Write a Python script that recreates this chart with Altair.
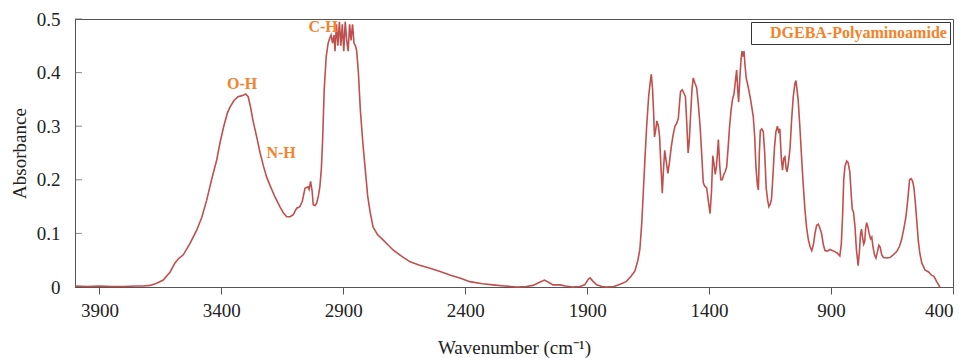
import altair as alt
import pandas as pd

# Spectrum (wavenumber in cm-1, absorbance)
wavenumber = [
    4000, 3950, 3900, 3850, 3800, 3750, 3720, 3692, 3665, 3638, 3610, 3590, 3575, 3556,
    3530, 3501, 3480, 3460, 3440, 3419, 3405, 3390, 3375, 3364, 3348, 3332, 3315, 3300,
    3290, 3280, 3270, 3255, 3241, 3227, 3214, 3201, 3180, 3160, 3145, 3132, 3118, 3105,
    3091, 3078, 3068, 3057, 3045, 3040, 3034, 3028, 3023, 3015, 3009, 3002, 2996, 2990,
    2985, 2978, 2970, 2962, 2955, 2950, 2944, 2938, 2934, 2928, 2922, 2916, 2910, 2904,
    2898, 2892, 2886, 2880, 2874, 2868, 2862, 2856, 2850, 2845, 2838, 2830, 2820, 2810,
    2800, 2790, 2778, 2760, 2737, 2715, 2696, 2660, 2626, 2590, 2544, 2503, 2460, 2422,
    2381, 2330, 2286, 2240, 2189, 2150, 2122, 2095, 2075, 2055, 2040, 2011, 1990, 1960,
    1930, 1910, 1895, 1888, 1875, 1861, 1840, 1820, 1790, 1765, 1740, 1720, 1704, 1692,
    1684, 1676, 1670, 1663, 1656, 1648, 1642, 1637, 1632, 1628, 1624, 1620, 1614, 1608,
    1603, 1597, 1592, 1587, 1582, 1576, 1569, 1562, 1555, 1547, 1540, 1533, 1526, 1521,
    1517, 1510, 1504, 1497, 1491, 1486, 1481, 1476, 1470, 1465, 1458, 1451, 1444, 1437,
    1430, 1424, 1418, 1410, 1403, 1396, 1390, 1385, 1380, 1375, 1370, 1365, 1362, 1357,
    1352, 1346, 1340, 1334, 1328, 1322, 1316, 1310, 1304, 1298, 1292, 1287, 1283, 1279,
    1274, 1269, 1265, 1261, 1257, 1253, 1248, 1240, 1230, 1219, 1213, 1208, 1202, 1198,
    1194, 1190, 1184, 1178, 1172, 1166, 1160, 1155, 1149, 1144, 1138, 1132, 1126, 1120,
    1115, 1110, 1104, 1099, 1094, 1089, 1084, 1080, 1074, 1068, 1062, 1055, 1048, 1044,
    1040, 1035, 1028, 1021, 1014, 1007, 1000, 993, 986, 979, 972, 966, 959, 952,
    946, 939, 932, 925, 915, 905, 895, 884, 874, 864, 858, 853, 848, 843,
    836, 830, 823, 817, 813, 808, 802, 796, 789, 784, 779, 775, 770, 766,
    762, 758, 754, 749, 744, 738, 733, 728, 722, 716, 710, 704, 699, 692,
    685, 672, 659, 645, 631, 620, 611, 602, 593, 585, 578, 572, 566, 560,
    554, 548, 542, 536, 528, 515, 500, 488, 478, 467, 460, 454,
]
absorbance = [
    0.002, 0.001, 0.002, 0.001, 0.001, 0.002, 0.002, 0.003, 0.007, 0.013, 0.028, 0.045, 0.053, 0.060,
    0.080, 0.106, 0.130, 0.162, 0.200, 0.237, 0.270, 0.300, 0.325, 0.336, 0.348, 0.355, 0.357, 0.360,
    0.355, 0.335, 0.310, 0.280, 0.250, 0.225, 0.205, 0.190, 0.168, 0.150, 0.138, 0.131, 0.131, 0.135,
    0.147, 0.150, 0.160, 0.184, 0.187, 0.182, 0.197, 0.180, 0.153, 0.152, 0.157, 0.170, 0.187, 0.220,
    0.270, 0.370, 0.430, 0.455, 0.465, 0.470, 0.455, 0.470, 0.440, 0.490, 0.450, 0.495, 0.450, 0.490,
    0.440, 0.495, 0.460, 0.440, 0.490, 0.460, 0.490, 0.455, 0.450, 0.440, 0.400, 0.330, 0.270, 0.220,
    0.170, 0.140, 0.112, 0.098, 0.088, 0.078, 0.069, 0.057, 0.047, 0.041, 0.035, 0.029, 0.022, 0.017,
    0.010, 0.006, 0.004, 0.002, 0.000, 0.001, 0.003, 0.009, 0.013, 0.008, 0.004, 0.004, 0.002, 0.000,
    0.001, 0.004, 0.015, 0.017, 0.010, 0.004, 0.001, 0.000, 0.001, 0.005, 0.010, 0.020, 0.030, 0.050,
    0.070, 0.120, 0.175, 0.240, 0.300, 0.355, 0.380, 0.397, 0.370, 0.330, 0.280, 0.290, 0.310, 0.300,
    0.280, 0.220, 0.175, 0.220, 0.255, 0.235, 0.212, 0.235, 0.262, 0.285, 0.300, 0.305, 0.315, 0.345,
    0.365, 0.368, 0.362, 0.355, 0.300, 0.250, 0.275, 0.320, 0.370, 0.390, 0.380, 0.372, 0.340, 0.300,
    0.245, 0.195, 0.188, 0.185, 0.160, 0.137, 0.180, 0.245, 0.230, 0.210, 0.225, 0.255, 0.275, 0.230,
    0.200, 0.200, 0.210, 0.215, 0.224, 0.260, 0.300, 0.330, 0.350, 0.360, 0.385, 0.405, 0.370, 0.345,
    0.390, 0.425, 0.440, 0.430, 0.440, 0.415, 0.390, 0.374, 0.350, 0.318, 0.280, 0.224, 0.190, 0.181,
    0.250, 0.292, 0.295, 0.290, 0.250, 0.185, 0.162, 0.150, 0.155, 0.165, 0.210, 0.260, 0.290, 0.300,
    0.290, 0.295, 0.240, 0.218, 0.240, 0.243, 0.220, 0.215, 0.235, 0.260, 0.310, 0.355, 0.380, 0.385,
    0.370, 0.350, 0.300, 0.243, 0.190, 0.144, 0.110, 0.088, 0.075, 0.068, 0.080, 0.100, 0.115, 0.117,
    0.110, 0.100, 0.080, 0.068, 0.067, 0.070, 0.068, 0.066, 0.063, 0.058, 0.080, 0.130, 0.200, 0.225,
    0.235, 0.232, 0.215, 0.170, 0.145, 0.140, 0.113, 0.070, 0.040, 0.065, 0.100, 0.108, 0.090, 0.080,
    0.085, 0.110, 0.120, 0.112, 0.100, 0.090, 0.093, 0.075, 0.060, 0.054, 0.065, 0.078, 0.075, 0.060,
    0.055, 0.054, 0.055, 0.060, 0.066, 0.075, 0.088, 0.108, 0.131, 0.165, 0.200, 0.202, 0.198, 0.185,
    0.155, 0.120, 0.085, 0.063, 0.045, 0.032, 0.028, 0.022, 0.020, 0.010, 0.005, 0.000,
]
series_name = "DGEBA-Polyaminoamide"

# Band annotations
band_labels = ["O-H", "N-H", "C-H"]
band_wn = [3315, 3155, 2983]
band_abs = [0.379, 0.250, 0.485]

x_ticks = [3900, 3400, 2900, 2400, 1900, 1400, 900, 400]
y_ticks = [0, 0.1, 0.2, 0.3, 0.4, 0.5]

SERIF = "Liberation Serif"
LINE = "#c0504d"
ORANGE = "#f5822a"
AXIS = "#555555"
TEXT = "#222222"

spec_df = pd.DataFrame({"wn": wavenumber, "abs": absorbance, "series": series_name})
band_df = pd.DataFrame({"label": band_labels, "wn": band_wn, "abs": band_abs})
ytick_df = pd.DataFrame({"v": y_ticks})

x_scale = alt.Scale(domain=[400, 4000], reverse=True, nice=False, zero=False)
y_scale = alt.Scale(domain=[0, 0.5], nice=False)

line = alt.Chart(spec_df).mark_line(strokeWidth=1.6, interpolate="linear").encode(
    x=alt.X("wn:Q", scale=x_scale, title="Wavenumber (cm⁻¹)",
            axis=alt.Axis(values=x_ticks, format="d", tickSize=7, labelPadding=7,
                          labelFont=SERIF, labelFontSize=19, labelColor=TEXT,
                          titleFont=SERIF, titleFontSize=19, titleColor=TEXT,
                          titleFontWeight="normal",
                          titleY=66, titleBaseline="alphabetic", grid=False)),
    y=alt.Y("abs:Q", scale=y_scale, title="Absorbance",
            axis=alt.Axis(values=y_ticks, format=".1~f", ticks=False, tickSize=0,
                          labelFont=SERIF, labelFontSize=19, labelColor=TEXT,
                          titleFont=SERIF, titleFontSize=19, titleColor=TEXT,
                          titleFontWeight="normal",
                          labelPadding=15, titleX=-50, titleBaseline="alphabetic",
                          grid=False)),
    color=alt.Color("series:N", scale=alt.Scale(range=[LINE]),
                    legend=alt.Legend(title=None, orient="top-right", offset=3, padding=3,
                                      strokeColor="#333333", symbolSize=0,
                                      symbolStrokeWidth=0, symbolType="stroke",
                                      labelOffset=0, labelLimit=0, labelFont=SERIF,
                                      labelFontWeight="bold", labelFontSize=16,
                                      labelColor=ORANGE)),
)

labels = alt.Chart(band_df).mark_text(
    font=SERIF, fontWeight="bold", fontSize=16, color=ORANGE, baseline="middle"
).encode(
    x=alt.X("wn:Q", scale=x_scale),
    y=alt.Y("abs:Q", scale=y_scale),
    text="label:N",
)

inner_ticks = alt.Chart(ytick_df).mark_tick(
    color=AXIS, thickness=1, size=7, orient="horizontal"
).encode(
    y=alt.Y("v:Q", scale=y_scale),
    x=alt.value(3.5),
)

chart = alt.layer(line, labels, inner_ticks).properties(
    width=878, height=268,
    autosize=alt.AutoSizeParams(type="none"),
    padding={"left": 75, "top": 19, "right": 14, "bottom": 71},
    background="white",
).configure_view(
    stroke=AXIS, strokeWidth=1
).configure_axis(
    domainColor=AXIS, tickColor=AXIS,
)

chart.save("out.html", embed_options={"renderer": "svg", "actions": False})
